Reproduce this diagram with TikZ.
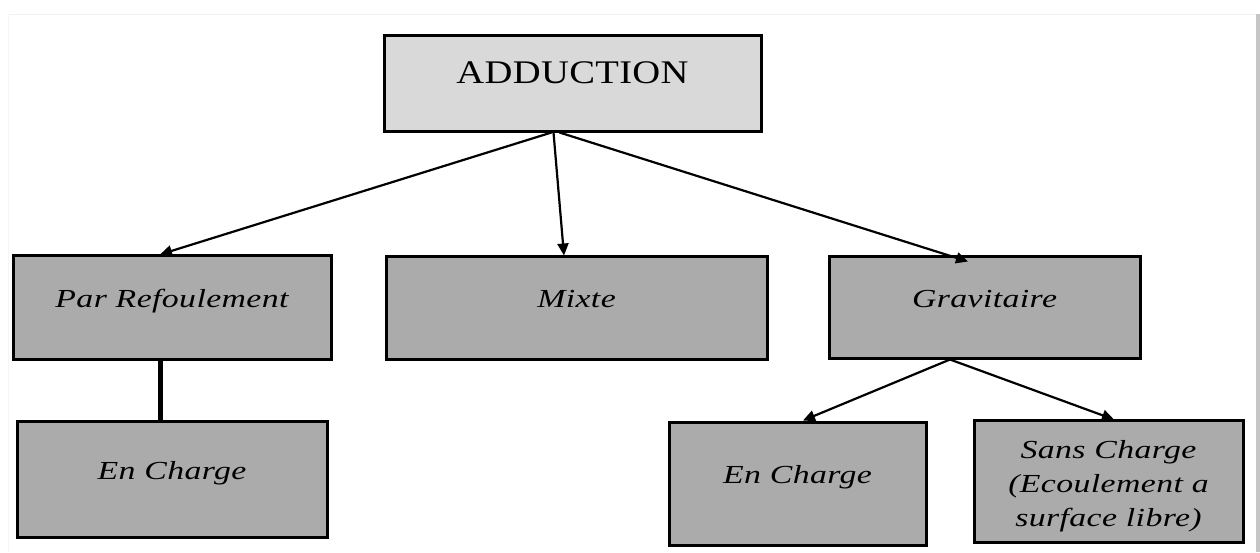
\documentclass[tikz,border=0pt]{standalone}
\usepackage{fontspec}
\setmainfont{Liberation Serif}
\newfontfamily\adfont{Liberation Serif}[FakeStretch=1.17, LetterSpace=1]
\newfontfamily\itfont{Liberation Serif}[FakeStretch=1.3, LetterSpace=1.5]
\usetikzlibrary{arrows.meta}
\definecolor{boxgray}{HTML}{ABABAB}
\definecolor{topgray}{HTML}{D9D9D9}
\tikzset{
  box/.style={draw=black, line width=3pt, fill=boxgray, inner sep=2pt,
    font=\itfont\itshape\fontsize{26}{34}\selectfont},
  oneline/.style={text height=8pt, text depth=8pt},
  topbox/.style={draw=black, line width=3pt, fill=topgray, inner sep=2pt,
    text height=8pt, text depth=8pt,
    font=\adfont\fontsize{33}{40}\selectfont},
  conn/.style={line width=2.2pt, -{Triangle[length=12pt,width=11pt]}},
  thickconn/.style={line width=5pt}
}
\begin{document}
\begin{tikzpicture}[x=1pt,y=-1pt]
\useasboundingbox (0,0) rectangle (1260,552);
\fill[white] (0,0) rectangle (1260,552);
% faint page frame
\draw[gray!10, line width=1pt] (8,14) -- (1256,14);
\draw[gray!8, line width=1pt] (8,14) -- (8,552);
\fill[gray!45] (1256,14) rectangle (1260,552);

\node[topbox, minimum width=377pt, minimum height=96pt] (A) at (572.5,83) {ADDUCTION};

\node[box, oneline, minimum width=318pt, minimum height=104pt] (PR) at (172,307) {Par Refoulement};
\node[box, oneline, minimum width=381pt, minimum height=103pt] (MX) at (576.5,307.5) {Mixte};
\node[box, oneline, minimum width=311pt, minimum height=102pt] (GR) at (984.5,307) {Gravitaire};

\node[box, oneline, minimum width=310pt, minimum height=116pt] (EC1) at (172,479) {En Charge};
\node[box, oneline, minimum width=257pt, minimum height=123pt] (EC2) at (797.5,483.5) {En Charge};
\node[box, align=center, minimum width=269pt, minimum height=122pt] (SC) at (1108.5,481) {\rule{0pt}{28pt}Sans Charge\\(Ecoulement a\\surface libre)};

\draw[conn] ([xshift=-21pt]A.south) -- ([xshift=-12pt,yshift=-1pt]PR.north);
\draw[conn] ([xshift=-19pt]A.south) -- ([xshift=-12.5pt,yshift=-1pt]MX.north);
\draw[conn] ([xshift=-13pt]A.south) -- ([xshift=-16.5pt,yshift=-7pt]GR.north);
\draw[thickconn] ([xshift=-12pt]PR.south) -- ([xshift=-12pt]EC1.north);
\draw[conn] ([xshift=-34.5pt]GR.south) -- ([xshift=5.5pt]EC2.north);
\draw[conn] ([xshift=-34.5pt]GR.south) -- ([xshift=5.5pt,yshift=-1pt]SC.north);
\end{tikzpicture}
\end{document}
